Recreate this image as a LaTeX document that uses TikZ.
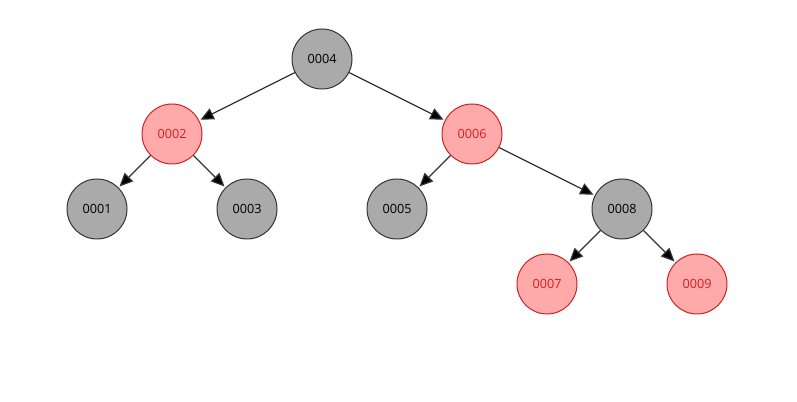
\documentclass[tikz,border=0pt]{standalone}
\usepackage{fontspec}
\setmainfont{Open Sans}
\usepackage{xcolor}
\usetikzlibrary{arrows.meta}

\definecolor{nodegray}{HTML}{AAAAAA}
\definecolor{nodered}{HTML}{FFAAAA}
\definecolor{redline}{HTML}{CC2222}

\begin{document}
\begin{tikzpicture}[
    x=0.75pt, y=-0.75pt,
    node font=\fontsize{9.5}{11}\selectfont,
    blacknode/.style={circle, draw=black!80, fill=nodegray, minimum size=45pt, inner sep=0pt, line width=0.75pt},
    rednode/.style={circle, draw=redline, fill=nodered, text=redline, minimum size=45pt, inner sep=0pt, line width=0.75pt},
    edge/.style={-{Triangle[length=10pt, width=9pt, fill=black]}, black!80, line width=0.9pt, shorten >=1pt}
]
  \useasboundingbox (0,0) rectangle (797,402);

  % --- Level 0 ---
  \node[blacknode] (n4) at (322,59) {0004};

  % --- Level 1 ---
  \node[rednode] (n2) at (172,134) {0002};
  \node[rednode] (n6) at (472,134) {0006};

  % --- Level 2 ---
  \node[blacknode] (n1) at (97,209) {0001};
  \node[blacknode] (n3) at (247,209) {0003};
  \node[blacknode] (n5) at (397,209) {0005};
  \node[blacknode] (n8) at (622,209) {0008};

  % --- Level 3 ---
  \node[rednode] (n7) at (547,284) {0007};
  \node[rednode] (n9) at (697,284) {0009};

  % Edges
  \draw[edge] (n4) -- (n2);
  \draw[edge] (n4) -- (n6);
  \draw[edge] (n2) -- (n1);
  \draw[edge] (n2) -- (n3);
  \draw[edge] (n6) -- (n5);
  \draw[edge] (n6) -- (n8);
  \draw[edge] (n8) -- (n7);
  \draw[edge] (n8) -- (n9);

\end{tikzpicture}
\end{document}
